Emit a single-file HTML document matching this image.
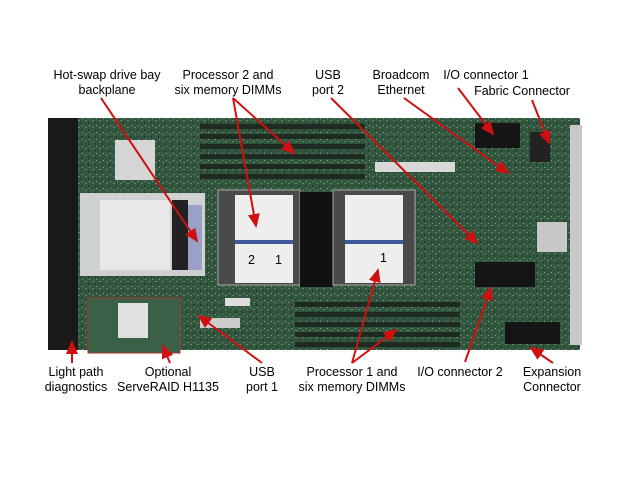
<!DOCTYPE html>
<html><head><style>
body{margin:0;background:#fff;width:640px;height:480px;overflow:hidden}
.t{font-family:"Liberation Sans",Arial,sans-serif;font-size:12.5px;fill:#000}
</style></head><body>
<svg width="640" height="480" xmlns="http://www.w3.org/2000/svg">
<defs>
<pattern id="pcb" width="7" height="7" patternUnits="userSpaceOnUse">
<rect width="7" height="7" fill="#33563f"/><rect x="1" y="1" width="2" height="1" fill="#5a8a6a"/><rect x="4" y="3" width="1" height="2" fill="#1d3528"/><rect x="5" y="6" width="1" height="1" fill="#8aa898"/>
</pattern>
<marker id="a" markerWidth="8" markerHeight="8" refX="6" refY="3" orient="auto"><path d="M0,0L7,3L0,6z" fill="#d01010"/></marker>
</defs>
<rect x="48" y="118" width="532" height="232" fill="url(#pcb)"/>
<rect x="48" y="118" width="30" height="232" fill="#1a1a1a"/>
<rect x="570" y="125" width="12" height="220" fill="#c8c8c8"/>
<rect x="80" y="193" width="125" height="83" fill="#cfd0d2"/>
<rect x="100" y="200" width="70" height="70" fill="#e8e8ea"/>
<rect x="172" y="200" width="16" height="70" fill="#222"/>
<rect x="188" y="205" width="14" height="65" fill="#9aa0c8"/>
<rect x="115" y="140" width="40" height="40" fill="#d5d5d5"/>
<g fill="#1e2a22">
<rect x="200" y="124" width="165" height="5"/><rect x="200" y="134" width="165" height="5"/><rect x="200" y="144" width="165" height="5"/><rect x="200" y="154" width="165" height="5"/><rect x="200" y="164" width="165" height="5"/><rect x="200" y="174" width="165" height="5"/>
</g>
<g fill="#1e2a22">
<rect x="295" y="302" width="165" height="5"/><rect x="295" y="312" width="165" height="5"/><rect x="295" y="322" width="165" height="5"/><rect x="295" y="332" width="165" height="5"/><rect x="295" y="342" width="165" height="5"/>
</g>
<rect x="375" y="162" width="80" height="10" fill="#d8d8d8"/>
<rect x="218" y="190" width="82" height="95" fill="#4a4a4a" stroke="#aaa"/>
<rect x="235" y="195" width="58" height="88" fill="#eee"/>
<rect x="235" y="240" width="58" height="4" fill="#3a5a9a"/>
<text x="248" y="264" class="t" font-size="12">2</text><text x="275" y="264" class="t" font-size="12">1</text>
<rect x="300" y="192" width="33" height="95" fill="#111"/>
<rect x="333" y="190" width="82" height="95" fill="#4a4a4a" stroke="#aaa"/>
<rect x="345" y="195" width="58" height="88" fill="#eee"/>
<rect x="345" y="240" width="58" height="4" fill="#3a5a9a"/>
<text x="380" y="262" class="t" font-size="12">1</text>
<rect x="475" y="123" width="45" height="25" fill="#151515"/>
<rect x="475" y="262" width="60" height="25" fill="#151515"/>
<rect x="505" y="322" width="55" height="22" fill="#151515"/>
<rect x="530" y="132" width="20" height="30" fill="#222"/>
<rect x="537" y="222" width="30" height="30" fill="#c8c8c8"/>
<rect x="88" y="298" width="92" height="55" fill="#3a6048" stroke="#a03a2a"/>
<rect x="118" y="303" width="30" height="35" fill="#e0e0e0"/>
<rect x="225" y="298" width="25" height="8" fill="#ddd"/>
<rect x="200" y="318" width="40" height="10" fill="#ccc"/>
<g class="t" text-anchor="middle">
<text x="107" y="79">Hot-swap drive bay</text><text x="107" y="94">backplane</text>
<text x="228" y="79">Processor 2 and</text><text x="228" y="94">six memory DIMMs</text>
<text x="328" y="79">USB</text><text x="328" y="94">port 2</text>
<text x="401" y="79">Broadcom</text><text x="401" y="94">Ethernet</text>
<text x="486" y="79">I/O connector 1</text>
<text x="522" y="95">Fabric Connector</text>
<text x="76" y="376">Light path</text><text x="76" y="391">diagnostics</text>
<text x="168" y="376">Optional</text><text x="168" y="391">ServeRAID H1135</text>
<text x="262" y="376">USB</text><text x="262" y="391">port 1</text>
<text x="352" y="376">Processor 1 and</text><text x="352" y="391">six memory DIMMs</text>
<text x="460" y="376">I/O connector 2</text>
<text x="552" y="376">Expansion</text><text x="552" y="391">Connector</text>
</g>
<g stroke="#d01010" stroke-width="2" marker-end="url(#a)">
<line x1="101" y1="98" x2="197" y2="241"/>
<line x1="233" y1="98" x2="294" y2="153"/>
<line x1="233" y1="98" x2="256" y2="226"/>
<line x1="331" y1="98" x2="477" y2="243"/>
<line x1="404" y1="98" x2="508" y2="173"/>
<line x1="458" y1="88" x2="493" y2="134"/>
<line x1="532" y1="100" x2="549" y2="143"/>
<line x1="72" y1="363" x2="72" y2="342"/>
<line x1="170" y1="363" x2="163" y2="346"/>
<line x1="262" y1="363" x2="199" y2="316"/>
<line x1="352" y1="363" x2="378" y2="270"/>
<line x1="352" y1="363" x2="396" y2="330"/>
<line x1="465" y1="362" x2="491" y2="288"/>
<line x1="553" y1="363" x2="531" y2="348"/>
</g>
</svg>
</body></html>
